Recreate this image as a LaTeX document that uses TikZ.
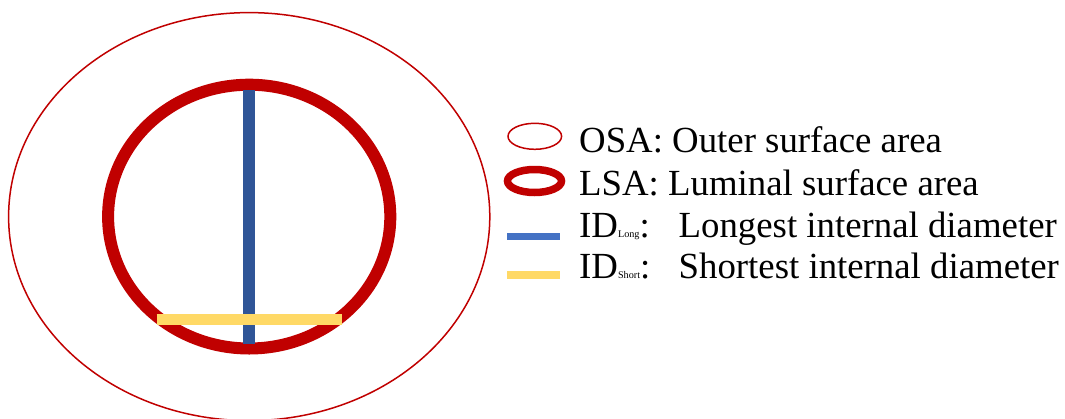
\documentclass[tikz,border=0pt]{standalone}
\usepackage{fontspec}
\setmainfont{Liberation Serif}
\definecolor{wallred}{HTML}{C00000}
\definecolor{longblue}{HTML}{2F5597}
\definecolor{keyblue}{HTML}{4472C4}
\definecolor{shortyellow}{HTML}{FFD966}
\newcommand{\tinysub}[1]{{\fontsize{10.2}{12}\selectfont #1}}
\begin{document}
\begin{tikzpicture}[x=1pt,y=-1pt,
  outerwall/.style={draw=wallred,line width=1.5pt},
  lumenwall/.style={draw=wallred,line width=12pt},
  longbar/.style={draw=longblue,line width=11.5pt},
  shortbar/.style={draw=shortyellow,line width=11pt},
  keytext/.style={anchor=base west,inner sep=0pt,font=\fontsize{36.8}{44}\selectfont},
  idlabel/.style={keytext}]
\useasboundingbox (0,0) rectangle (1065,418);

% vessel cross-section
\coordinate (c) at (249.2,216.6);
\draw[outerwall] (c) ellipse [x radius=240.6, y radius=204];
\draw[lumenwall] (c) ellipse [x radius=141.1, y radius=131.9];

% internal diameters
\coordinate (longtop) at (249.2,90);
\coordinate (longbot) at (249.2,344.3);
\draw[longbar] (longtop) -- (longbot);
\coordinate (shortl) at (156.7,319);
\coordinate (shortr) at (342,319);
\draw[shortbar] (shortl) -- (shortr);

% legend symbols
\coordinate (kosa) at (534.8,136.3);
\draw[outerwall] (kosa) ellipse [x radius=26.8, y radius=13];
\coordinate (klsa) at (534.5,181);
\draw[draw=wallred,line width=7.5pt] (klsa) ellipse [x radius=27, y radius=11.5];
\coordinate (klongl) at (507.3,236.3);
\coordinate (klongr) at (560,236.3);
\draw[draw=keyblue,line width=7.3pt] (klongl) -- (klongr);
\coordinate (kshortl) at (507.3,275.2);
\coordinate (kshortr) at (560,275.2);
\draw[draw=shortyellow,line width=8.3pt] (kshortl) -- (kshortr);

% legend texts
\node[keytext] (tosa) at (579,152.5) {OSA: Outer surface area};
\node[keytext] (tlsa) at (579,195) {LSA: Luminal surface area};
\node[idlabel] (tlong) at (579,237.3)
  {\makebox[99.5pt][l]{ID\tinysub{Long}:}Longest internal diameter};
\node[idlabel] (tshort) at (579,278.3)
  {\makebox[99.5pt][l]{ID\tinysub{Short}:}Shortest internal diameter};
\end{tikzpicture}
\end{document}
